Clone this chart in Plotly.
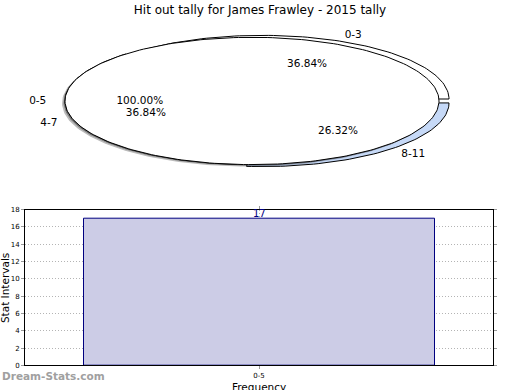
import numpy as np
import plotly.graph_objects as go

# ---------------- data ----------------
chart_title = "Hit out tally for James Frawley - 2015 tally"
pie1_labels = ["0-5"]
pie1_values = [17]
pie2_labels = ["0-3", "4-7", "8-11"]
pie2_values = [7, 7, 5]
bar_categories = ["0-5"]
bar_values = [17]
y_tick_values = [0, 2, 4, 6, 8, 10, 12, 14, 16, 18]

# ---------------- styling / geometry (pixels) ----------------
W, H = 520, 390
CX, CY = 252, 99          # pie centre
RX, RY = 187, 65          # pie radii (flattened)
pie1_colors = ["#ffffff"]
pie2_colors = ["#ffffff", "#ffffff", "#c6d9f7"]
pie2_explode = [(10, -2), (0, 0), (10, 2)]
FONT = "DejaVu Sans"

fig = go.Figure()


def wedge_xy(t0, t1, dx, dy, full=False):
    n = max(int(abs(t1 - t0) / 1.5) + 2, 4)
    th = np.radians(np.linspace(t0, t1, n))
    xs = list(CX + dx + RX * np.cos(th))
    ys = list(CY + dy - RY * np.sin(th))
    if not full:
        xs = [CX + dx] + xs + [CX + dx]
        ys = [CY + dy] + ys + [CY + dy]
    return xs, ys


def pie_traces(labels, values, colors, explode, shadow=False):
    total = float(sum(values))
    start = 0.0
    lab_x, lab_y, lab_t, lab_pos = [], [], [], []
    pct_x, pct_y, pct_t = [], [], []
    for lab, v, col, (dx, dy) in zip(labels, values, colors, explode):
        span = 360.0 * v / total
        t0, t1 = start, start + span
        full = abs(span - 360.0) < 1e-9
        if shadow:
            for off, c in [((-3, 2), "rgba(60,60,60,0.35)"), ((-1.5, 1), "rgba(40,40,40,0.45)")]:
                sx, sy = wedge_xy(t0, t1, dx + off[0], dy + off[1], full)
                fig.add_trace(go.Scatter(x=sx, y=sy, mode="lines", fill="toself",
                                         fillcolor=c, line=dict(width=0),
                                         xaxis="x2", yaxis="y2", hoverinfo="skip",
                                         showlegend=False))
        xs, ys = wedge_xy(t0, t1, dx, dy, full)
        fig.add_trace(go.Scatter(x=xs, y=ys, mode="lines", fill="toself",
                                 fillcolor=col, line=dict(color="#000000", width=1),
                                 xaxis="x2", yaxis="y2", hoverinfo="skip",
                                 showlegend=False))
        mid = np.radians((t0 + t1) / 2)
        c, s = np.cos(mid), np.sin(mid)
        lab_x.append(CX + dx + 1.1 * RX * c)
        lab_y.append(CY + dy - 1.1 * RY * s)
        lab_t.append(lab)
        lab_pos.append("middle right" if c >= 0 else "middle left")
        pct_x.append(CX + dx + 0.6 * RX * c)
        pct_y.append(CY + dy - 0.6 * RY * s)
        pct_t.append("%.2f%%" % (100.0 * v / total))
        start = t1
    return (lab_x, lab_y, lab_t, lab_pos), (pct_x, pct_y, pct_t)


labs2, pcts2 = pie_traces(pie2_labels, pie2_values, pie2_colors, pie2_explode)
labs1, pcts1 = pie_traces(pie1_labels, pie1_values, pie1_colors, [(0, 0)], shadow=True)

for (lx, ly, lt, lp), (px, py, pt) in [(labs2, pcts2), (labs1, pcts1)]:
    fig.add_trace(go.Scatter(x=lx, y=ly, text=lt, mode="text", textposition=lp,
                             textfont=dict(family=FONT, size=10.5, color="#000000"),
                             xaxis="x2", yaxis="y2", hoverinfo="skip", showlegend=False,
                             cliponaxis=False))
    fig.add_trace(go.Scatter(x=px, y=py, text=pt, mode="text", textposition="middle center",
                             textfont=dict(family=FONT, size=10.5, color="#000000"),
                             xaxis="x2", yaxis="y2", hoverinfo="skip", showlegend=False,
                             cliponaxis=False))

# ---------------- bar chart ----------------
fig.add_trace(go.Bar(x=bar_categories, y=bar_values, width=0.75,
                     marker=dict(color="#ccccE6", line=dict(color="#000080", width=1)),
                     showlegend=False, hoverinfo="skip"))

bar_labels = [dict(x=c, y=v, xref="x", yref="y", text=str(v), showarrow=False,
                   xanchor="center", yanchor="bottom", yshift=-3,
                   font=dict(family=FONT, size=10, color="#000080"))
              for c, v in zip(bar_categories, bar_values)]

grid_style = dict(showgrid=True, gridcolor="#b4b4b4", griddash="1px,2px", gridwidth=1)

fig.update_layout(
    width=W, height=H,
    margin=dict(l=0, r=0, t=0, b=0),
    paper_bgcolor="#ffffff", plot_bgcolor="#ffffff",
    font=dict(family=FONT, color="#000000"),
    title=dict(text=chart_title, x=0.5, xanchor="center", y=1 - 10 / H, yanchor="middle",
               font=dict(family=FONT, size=12, color="#000000")),
    xaxis=dict(domain=[25 / W, 493 / W], range=[-0.5, 0.5], type="category",
               showline=True, mirror="allticks", linecolor="#000000", linewidth=1,
               ticks="outside", ticklen=3, tickcolor="#999999",
               tickfont=dict(family=FONT, size=7, color="#000000"), zeroline=False,
               **grid_style),
    yaxis=dict(domain=[1 - 369 / H, 1 - 210 / H], range=[0, 18],
               tickvals=y_tick_values,
               showline=True, mirror="allticks", linecolor="#000000", linewidth=1,
               ticks="outside", ticklen=3, tickcolor="#999999",
               tickfont=dict(family=FONT, size=7, color="#000000"), zeroline=False,
               **grid_style),
    xaxis2=dict(domain=[0, 1], range=[0, W], visible=False, fixedrange=True),
    yaxis2=dict(domain=[1 - 200 / H, 1], range=[200, 0], visible=False, fixedrange=True),
    bargap=0,
    annotations=bar_labels + [
        dict(text="Frequency", x=0.5 * (25 + 493) / W, xref="paper", y=1 - 383 / H, yref="paper",
             xanchor="center", yanchor="top", showarrow=False,
             font=dict(family=FONT, size=10.5, color="#000000")),
        dict(text="Stat Intervals", x=5 / W, xref="paper", y=1 - 290 / H, yref="paper",
             xanchor="center", yanchor="middle", textangle=-90, showarrow=False,
             font=dict(family=FONT, size=10.5, color="#000000")),
        dict(text="<b>Dream-Stats.com</b>", x=0, xref="paper", y=1 - 380 / H, yref="paper",
             xanchor="left", yanchor="middle", showarrow=False,
             font=dict(family=FONT, size=10.5, color="#a0a0a0")),
    ],
)

fig.write_html("out.html", config={"displayModeBar": False},
               post_script="document.body.style.margin='0';")
